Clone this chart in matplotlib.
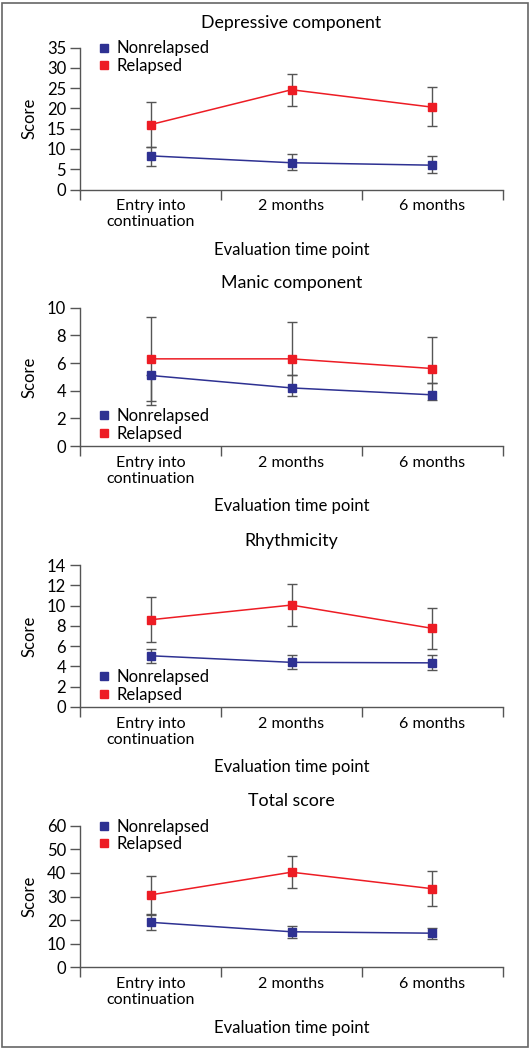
import matplotlib
matplotlib.use("Agg")

import matplotlib.pyplot as plt
from matplotlib.lines import Line2D
from matplotlib.patches import Rectangle

plt.rcParams["font.family"] = ["Lato", "DejaVu Sans"]

# Data
timepoints = ["Entry into\ncontinuation", "2 months", "6 months"]
titles = ["Depressive component", "Manic component", "Rhythmicity", "Total score"]
y_max = [35, 10, 14, 60]
y_step = [5, 2, 2, 10]
legend_top = [True, False, False, True]

# Nonrelapsed: mean, error bar bottom, error bar top
non_mean = [[8.3, 6.6, 6.0], [5.1, 4.2, 3.7], [5.05, 4.4, 4.35], [19.1, 15.1, 14.5]]
non_low = [[5.9, 4.7, 4.0], [3.0, 3.6, 3.3], [4.35, 3.7, 3.65], [15.9, 12.6, 12.0]]
non_high = [[10.6, 8.7, 8.2], [5.1, 5.1, 4.55], [5.75, 5.1, 5.1], [22.4, 17.4, 16.9]]

# Relapsed: mean, error bar bottom, error bar top
rel_mean = [[16.0, 24.6, 20.3], [6.3, 6.3, 5.6], [8.6, 10.05, 7.75], [30.7, 40.3, 33.3]]
rel_low = [[10.5, 20.7, 15.7], [3.25, 5.1, 4.55], [6.4, 8.0, 5.7], [22.5, 33.6, 25.9]]
rel_high = [[21.6, 28.6, 25.2], [9.35, 8.95, 7.9], [10.8, 12.15, 9.8], [38.7, 47.1, 40.7]]

blue = "#2e3192"
red = "#ed1c24"
grey = "#555555"

fig = plt.figure(figsize=(5.3, 10.5), dpi=100)
fig.patches.append(Rectangle((0.004, 0.003), 0.992, 0.994, transform=fig.transFigure,
                             fill=False, edgecolor="#666666", linewidth=1.2))

# axes positions in figure fraction (left, bottom, width, height)
boxes = [
    (0.151, 0.8195, 0.798, 0.1352),
    (0.151, 0.5752, 0.798, 0.1318),
    (0.151, 0.3267, 0.798, 0.1352),
    (0.151, 0.0786, 0.798, 0.1351),
]

x = [0.5, 1.5, 2.5]

for i, box in enumerate(boxes):
    ax = fig.add_axes(box)

    for mean, low, high, col in [(non_mean[i], non_low[i], non_high[i], blue),
                                 (rel_mean[i], rel_low[i], rel_high[i], red)]:
        yerr = [[m - l for m, l in zip(mean, low)], [h - m for m, h in zip(mean, high)]]
        ax.errorbar(x, mean, yerr=yerr, fmt="none", ecolor=grey, elinewidth=1.0,
                    capsize=3.5, capthick=1.0, zorder=2)
        ax.plot(x, mean, color=col, linewidth=1.1, marker="s", markersize=6,
                zorder=3, clip_on=False)

    ax.set_xlim(0, 3)
    ax.set_ylim(0, y_max[i])
    ax.set_yticks(range(0, y_max[i] + 1, y_step[i]))
    ax.set_xticks([0, 1, 2, 3])
    ax.set_xticklabels([])
    ax.set_xticks(x, minor=True)
    ax.set_xticklabels(timepoints, minor=True)
    ax.tick_params(axis="x", which="major", length=7, width=1, color=grey)
    ax.tick_params(axis="x", which="minor", length=0, pad=7, labelsize=11.5)
    ax.tick_params(axis="y", length=7, width=1, color=grey, pad=3, labelsize=12)

    for s in ["top", "right"]:
        ax.spines[s].set_visible(False)
    for s in ["left", "bottom"]:
        ax.spines[s].set_color(grey)
        ax.spines[s].set_linewidth(1)

    ax.set_title(titles[i], fontsize=12.8, pad=14)
    ax.set_ylabel("Score", fontsize=12, labelpad=7)
    ax.set_xlabel("Evaluation time point", fontsize=12, labelpad=9)

    handles = [Line2D([], [], color=blue, marker="s", linestyle="none", markersize=6),
               Line2D([], [], color=red, marker="s", linestyle="none", markersize=6)]
    if legend_top[i]:
        loc, anchor = "upper left", (0.04, 1.05)
    else:
        loc, anchor = "lower left", (0.04, 0.03)
    ax.legend(handles, ["Nonrelapsed", "Relapsed"], loc=loc, bbox_to_anchor=anchor,
              frameon=False, fontsize=12, handlelength=0.8, handletextpad=0.4,
              labelspacing=0.1, borderpad=0, borderaxespad=0)

fig.savefig("out.png", dpi=100)
